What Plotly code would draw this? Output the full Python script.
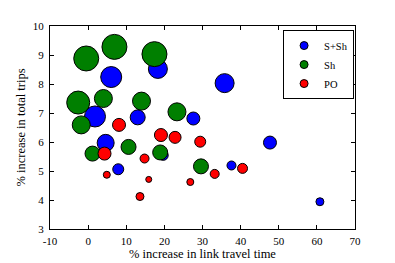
import plotly.graph_objects as go

# S+Sh series
ssh_x = [6.05, 18.3, 1.8, 13.0, 27.6, 35.8, 4.6, 7.9, 19.7, 37.6, 47.7, 60.8]
ssh_y = [8.24, 8.52, 6.88, 6.85, 6.81, 8.03, 5.97, 5.06, 5.54, 5.19, 5.98, 3.94]
ssh_s = [21, 19, 21, 15, 13, 19, 17, 11, 10, 9, 13, 8]

# Sh series
sh_x = [-0.5, 6.9, 17.4, -2.6, 4.0, 14.0, 23.3, -1.8, 1.15, 10.6, 18.9, 29.6]
sh_y = [8.88, 9.28, 9.03, 7.36, 7.50, 7.41, 7.04, 6.59, 5.60, 5.83, 5.64, 5.16]
sh_s = [25, 25, 25, 23, 18, 18, 18, 18, 15, 15, 15, 15]

# PO series
po_x = [8.1, 4.3, 4.9, 14.8, 15.9, 13.6, 19.1, 22.8, 29.4, 33.2, 26.8, 40.5]
po_y = [6.59, 5.60, 4.87, 5.43, 4.71, 4.12, 6.24, 6.16, 6.01, 4.90, 4.62, 5.09]
po_s = [13, 13, 7, 9, 6, 8, 13, 12, 11, 9, 7, 10]

x_ticks = [-10, 0, 10, 20, 30, 40, 50, 60, 70]
y_ticks = [3, 4, 5, 6, 7, 8, 9, 10]

series = [
    ("S+Sh", ssh_x, ssh_y, ssh_s, "#0000ff"),
    ("Sh", sh_x, sh_y, sh_s, "#007f00"),
    ("PO", po_x, po_y, po_s, "#ff0000"),
]

fig = go.Figure()
for name, xs, ys, ss, col in series:
    fig.add_trace(go.Scatter(
        x=xs, y=ys, mode="markers", name=name, showlegend=False,
        marker=dict(size=ss, color=col, opacity=1, line=dict(color="black", width=1)),
    ))
for name, xs, ys, ss, col in series:
    fig.add_trace(go.Scatter(
        x=[None], y=[None], mode="markers", name=name,
        marker=dict(size=8, color=col, opacity=1, line=dict(color="black", width=1)),
    ))

font = "Liberation Serif, DejaVu Serif, serif"
axis_common = dict(
    showline=True, linecolor="black", linewidth=1, mirror="ticks",
    ticks="inside", ticklen=4, tickcolor="black", tickwidth=1,
    showgrid=False, zeroline=False, automargin=False,
    tickfont=dict(family=font, size=11, color="black"),
)
fig.update_xaxes(range=[-10, 70], tickvals=x_ticks, ticktext=[str(v) for v in x_ticks],
                 ticklabelstandoff=2,
                 title=dict(text="% increase in link travel time", font=dict(family=font, size=12.5, color="black"), standoff=2),
                 **axis_common)
fig.update_yaxes(range=[3, 10], tickvals=y_ticks, ticktext=[str(v) for v in y_ticks],
                 ticklabelstandoff=3,
                 title=dict(text="% increase in total trips", font=dict(family=font, size=12.5, color="black"), standoff=4),
                 **axis_common)

fig.update_layout(
    width=387, height=255,
    margin=dict(l=42, r=40, t=18, b=34),
    paper_bgcolor="white", plot_bgcolor="white",
    font=dict(family=font, color="black"),
    legend=dict(x=0.997, y=0.98, xanchor="right", yanchor="top",
                bordercolor="black", borderwidth=1, bgcolor="white",
                font=dict(family=font, size=10.5, color="black"),
                itemwidth=30, tracegroupgap=0),
)

fig.write_html("out.html")
